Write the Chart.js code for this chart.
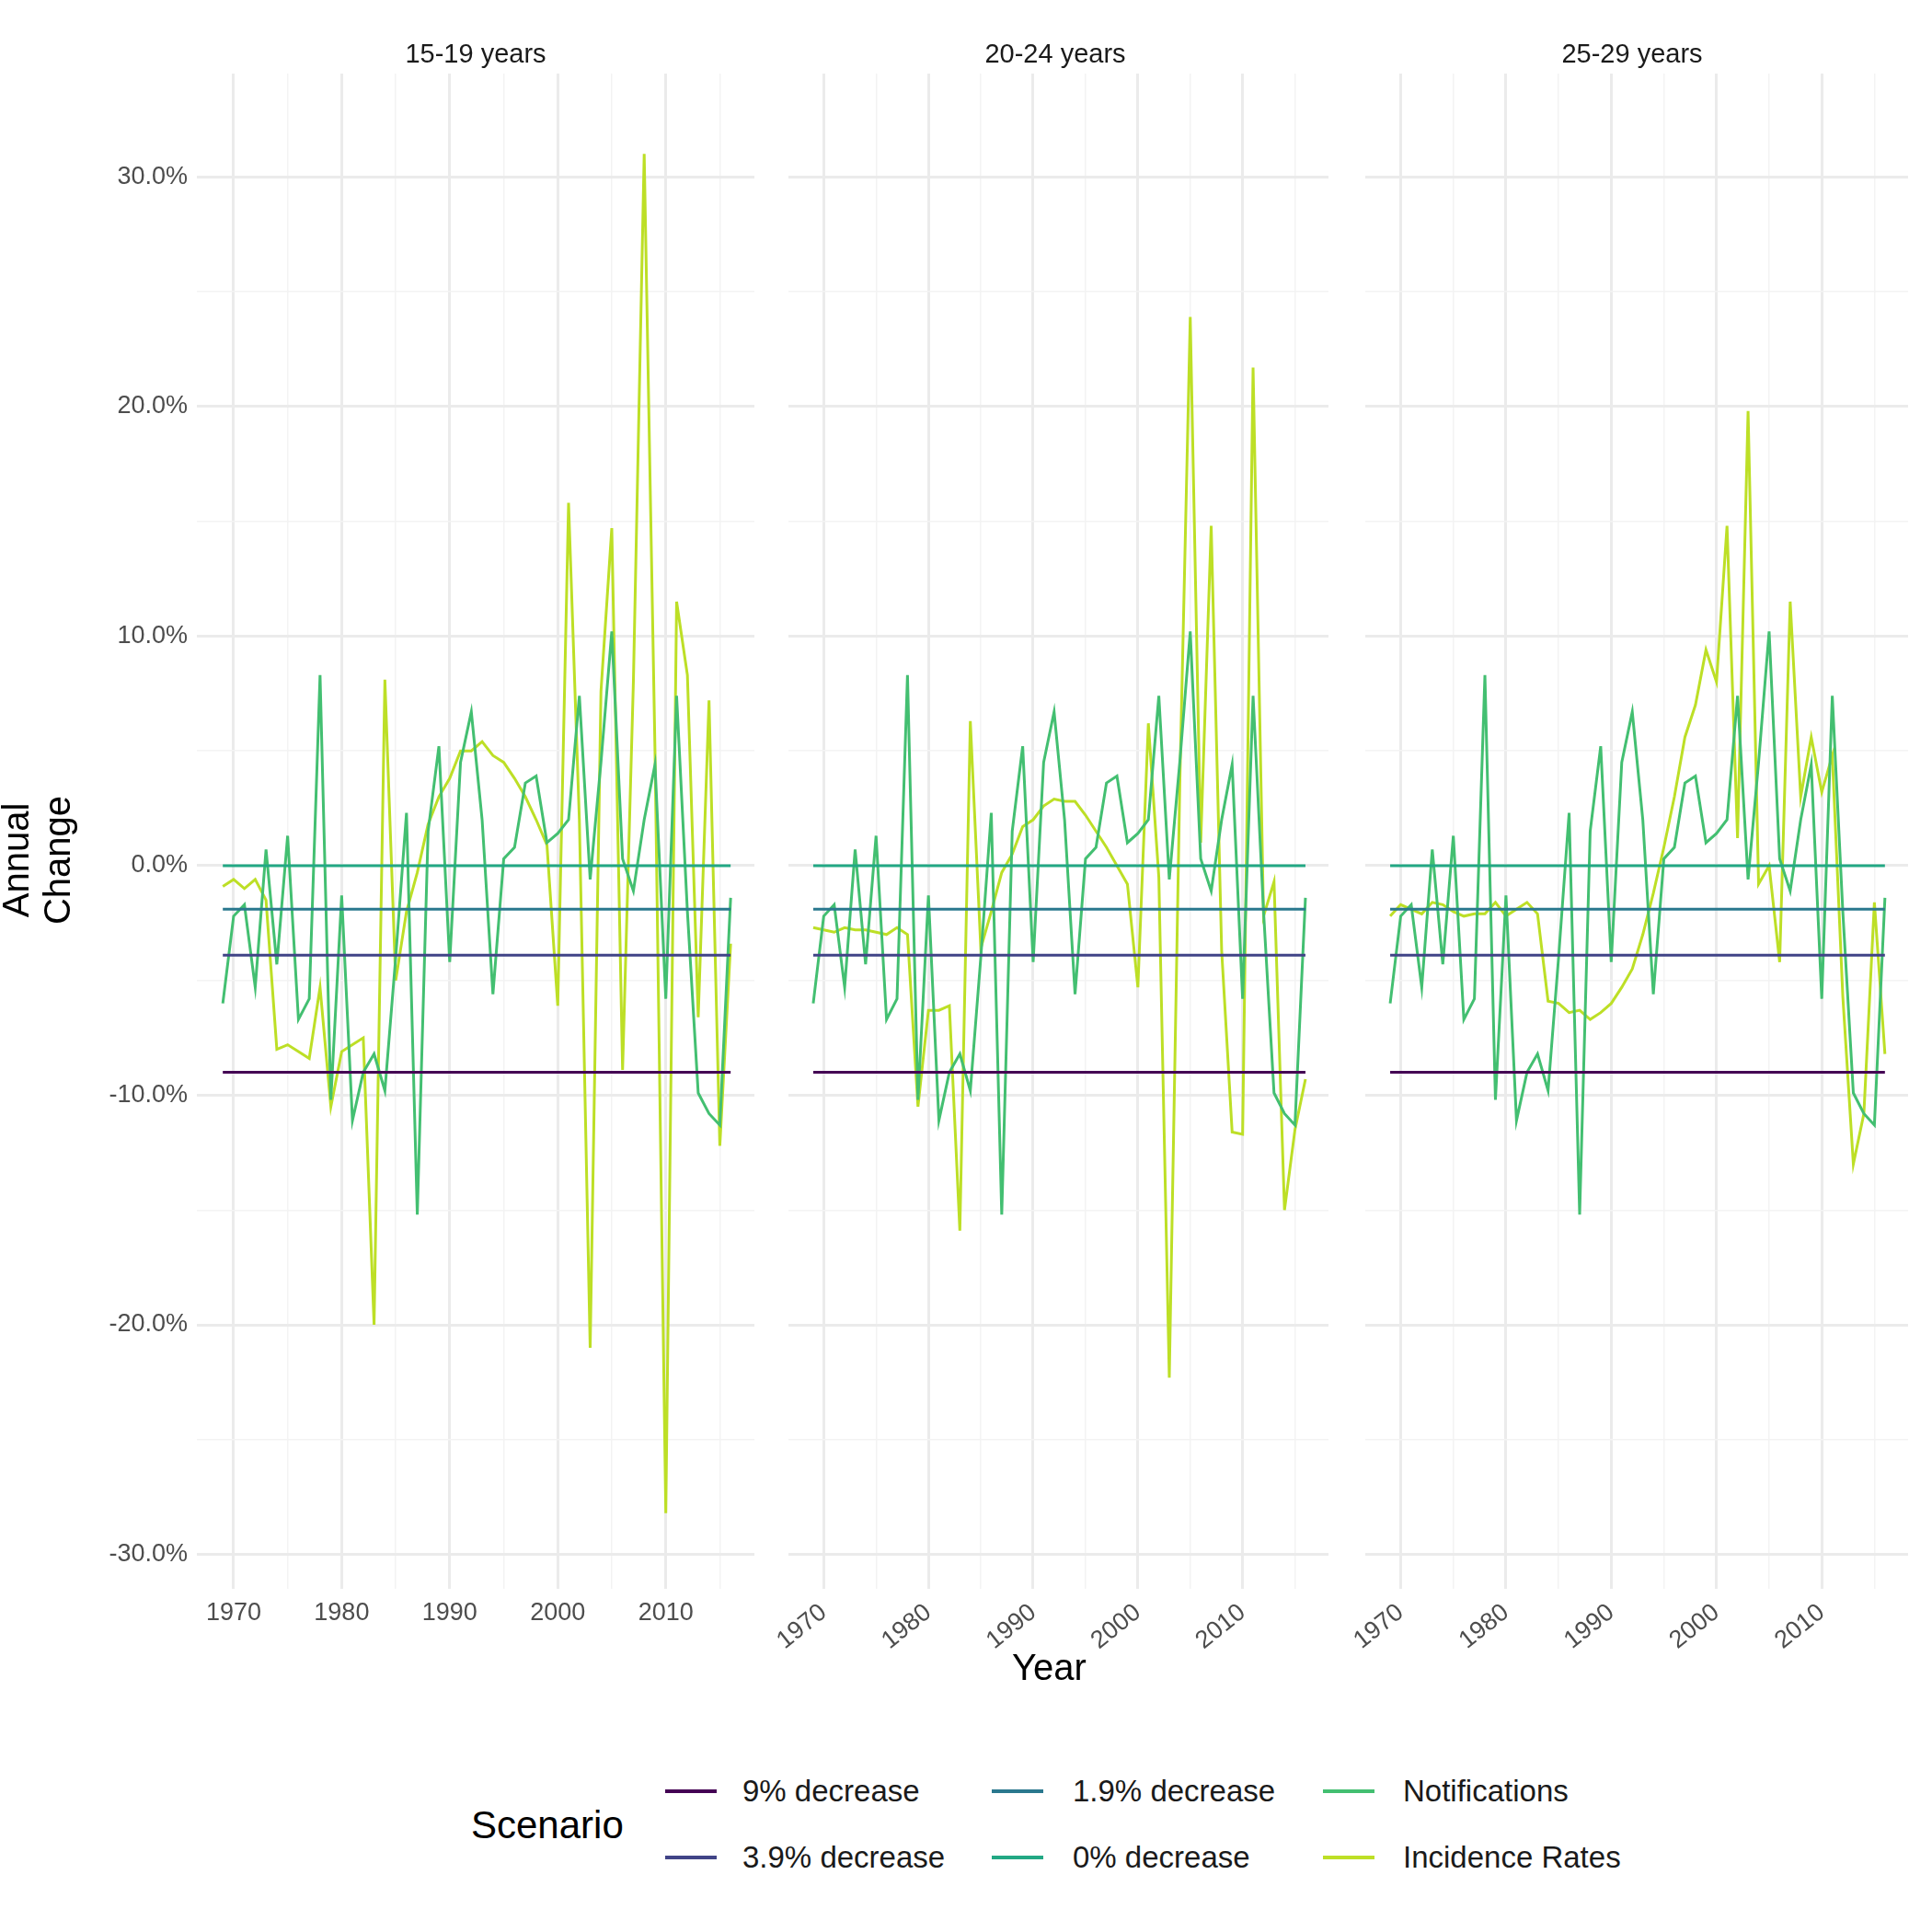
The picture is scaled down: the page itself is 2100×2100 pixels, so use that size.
<!DOCTYPE html>
<html><head><meta charset="utf-8">
<script src="https://cdn.jsdelivr.net/npm/chart.js@4"></script>
<style>
body{margin:0;background:#fff;font-family:"Liberation Sans",Arial,sans-serif;}
#wrap{position:relative;width:2100px;height:2100px;}
.c{position:absolute;top:0;height:1800px;}
.strip{position:absolute;top:42px;font-size:29px;color:#1a1a1a;text-align:center;width:606px;}
.lab{position:absolute;color:#000;}
.leg{position:absolute;font-size:33px;color:#1a1a1a;}
.sw{position:absolute;height:4px;width:56px;}
</style></head><body>
<div id="wrap">
  <div class="c" style="left:0;width:826px"><canvas id="p0"></canvas></div>
  <div class="c" style="left:838px;width:614px"><canvas id="p1"></canvas></div>
  <div class="c" style="left:1465px;width:617px"><canvas id="p2"></canvas></div>
  <div class="strip" style="left:214px">15-19 years</div>
  <div class="strip" style="left:844px">20-24 years</div>
  <div class="strip" style="left:1471px">25-29 years</div>
  <div class="lab" style="left:1100px;top:1790px;font-size:40px">Year</div>
  <div class="lab" style="left:-80px;top:890px;font-size:40px;transform:rotate(-90deg);width:240px;text-align:center">Annual Change</div>
  <div class="lab" style="left:512px;top:1960px;font-size:42px">Scenario</div>
  <div id="legend"></div>
</div>
<script>
const years = [];
for (let y = 1969; y <= 2016; y++) years.push(y);

const panelTitles = ["15-19 years", "20-24 years", "25-29 years"];
const scenarioNames = ["9% decrease", "3.9% decrease", "1.9% decrease", "0% decrease"];
const scenarioLevels = [-9, -3.9, -1.9, 0];
const scenarioColors = ["#440154", "#414487", "#2a788e", "#22a884"];
const notifColor = "#43bf71";
const incColor = "#bddf26";

const notifications = [-6.0,-2.2,-1.7,-5.3,0.7,-4.3,1.3,-6.7,-5.8,8.3,-10.2,-1.3,-11.1,-9.0,-8.2,-9.8,-4.0,2.3,-15.2,1.5,
  5.2,-4.2,4.5,6.7,2.0,-5.6,0.3,0.8,3.6,3.9,1.0,1.4,2.0,7.4,-0.6,4.5,10.2,0.3,-1.1,2.0,4.4,-5.8,7.4,-2.0,-9.9,-10.8,-11.3,-1.4];

const incidence1519 = [-0.9,-0.6,-1.0,-0.6,-1.5,-8.0,-7.8,-8.1,-8.4,-5.3,-10.5,-8.1,-7.8,-7.5,-20.0,8.1,-5.0,-2.0,-0.3,1.8,
  3.0,3.8,5.0,5.0,5.4,4.8,4.5,3.8,3.0,2.0,0.9,-6.1,15.8,2.0,-21.0,7.6,14.7,-8.9,8.0,31.0,5.0,-28.2,11.5,8.3,-6.6,7.2,-12.2,-3.4];
const incidence2024 = [-2.7,-2.8,-2.9,-2.7,-2.8,-2.8,-2.9,-3.0,-2.7,-3.0,-10.5,-6.3,-6.3,-6.1,-15.9,6.3,-3.6,-2.0,-0.3,0.5,
  1.7,2.0,2.6,2.9,2.8,2.8,2.2,1.5,0.8,0.0,-0.8,-5.3,6.2,-0.5,-22.3,3.5,23.9,1.0,14.8,-3.7,-11.6,-11.7,21.7,-2.2,-0.7,-15.0,-11.5,-9.3];
const incidence2529 = [-2.2,-1.7,-1.9,-2.1,-1.6,-1.7,-2.0,-2.2,-2.1,-2.1,-1.6,-2.2,-1.9,-1.6,-2.1,-5.9,-6.0,-6.4,-6.3,-6.7,
  -6.4,-6.0,-5.3,-4.5,-3.0,-1.2,0.8,3.0,5.6,7.0,9.4,8.0,14.8,1.2,19.8,-0.8,0.0,-4.2,11.5,3.0,5.6,3.2,4.8,-5.7,-13.0,-10.8,-1.6,-8.2];
const incidence = [incidence1519, incidence2024, incidence2529];

const yTicks = [-30, -20, -10, 0, 10, 20, 30];
const xTicks = [1970, 1980, 1990, 2000, 2010];

function pts(vals) { return years.map((y, i) => ({ x: y, y: vals[i] })); }

function makePanel(id, idx) {
  const datasets = [];
  scenarioLevels.forEach((lv, i) => {
    datasets.push({ label: scenarioNames[i], data: years.map(y => ({ x: y, y: lv })),
      borderColor: scenarioColors[i], borderWidth: 3, pointRadius: 0 });
  });
  datasets.push({ label: "Notifications", data: pts(notifications), borderColor: notifColor, borderWidth: 3, pointRadius: 0 });
  datasets.push({ label: "Incidence Rates", data: pts(incidence[idx]), borderColor: incColor, borderWidth: 3, pointRadius: 0 });
  const first = idx === 0;
  new Chart(document.getElementById(id), {
    type: "line",
    data: { datasets },
    options: {
      responsive: true, maintainAspectRatio: false, animation: false,
      layout: { padding: { top: 80, right: first ? 6 : 8, left: first ? 0 : 6 } },
      plugins: { legend: { display: false }, tooltip: { enabled: false } },
      scales: {
        x: {
          type: "linear", min: 1966.6, max: 2018.2,
          afterBuildTicks: ax => { const t = []; for (let v = 1970; v <= 2015; v += 5) t.push({ value: v }); ax.ticks = t; },
          afterFit: ax => { ax.height = 73; },
          grid: { color: c => (c.tick && c.tick.value % 10 === 0) ? "#ebebeb" : "#f3f3f3", lineWidth: c => (c.tick && c.tick.value % 10 === 0) ? 3 : 1.5, drawTicks: false },
          border: { display: false },
          ticks: { padding: 10, color: "#4d4d4d", font: { size: 27, family: "Liberation Sans" },
            callback: v => xTicks.includes(v) ? String(v) : "" }
        },
        y: {
          display: true, min: -31.5, max: 34.5,
          afterBuildTicks: ax => { const t = []; for (let v = -30; v <= 30; v += 5) t.push({ value: v }); ax.ticks = t; },
          afterFit: ax => { ax.width = first ? 214 : 0; },
          grid: { color: c => (c.tick && c.tick.value % 10 === 0) ? "#ebebeb" : "#f3f3f3", lineWidth: c => (c.tick && c.tick.value % 10 === 0) ? 3 : 1.5, drawTicks: false },
          border: { display: false },
          ticks: { display: first, padding: 10, color: "#4d4d4d", font: { size: 27, family: "Liberation Sans" },
            callback: v => yTicks.includes(v) ? v.toFixed(1) + "%" : "" }
        }
      }
    }
  });
}
makePanel("p0", 0); makePanel("p1", 1); makePanel("p2", 2);

// legend
const legItems = [
  [scenarioNames[0], scenarioColors[0], 723, 1947, 807], [scenarioNames[1], scenarioColors[1], 723, 2019, 807],
  [scenarioNames[2], scenarioColors[2], 1078, 1947, 1166], [scenarioNames[3], scenarioColors[3], 1078, 2019, 1166],
  ["Notifications", notifColor, 1438, 1947, 1525], ["Incidence Rates", incColor, 1438, 2019, 1525]
];
const lg = document.getElementById("legend");
legItems.forEach(([t, c, lx, y, tx]) => {
  lg.insertAdjacentHTML("beforeend",
    `<div class="sw" style="left:${lx}px;top:${y - 2}px;background:${c}"></div><div class="leg" style="left:${tx}px;top:${y - 19}px">${t}</div>`);
});
</script>
</body></html>
